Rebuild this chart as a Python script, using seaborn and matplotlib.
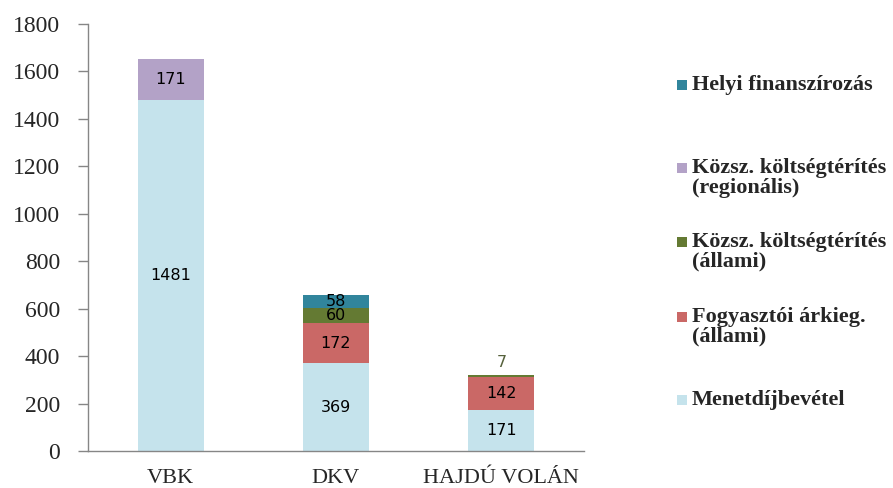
import numpy as np
import pandas as pd
import matplotlib
matplotlib.use("Agg")
import matplotlib.pyplot as plt
import seaborn as sns
from matplotlib.patches import Rectangle

# =============================
# Données
# =============================
categories = ["VBK", "DKV", "HAJDÚ VOLÁN"]

series_names = [
    "Menetdíjbevétel",
    "Fogyasztói árkieg. (állami)",
    "Közsz. költségtérítés (állami)",
    "Közsz. költségtérítés (regionális)",
    "Helyi finanszírozás",
]
menetdij = [1481, 369, 171]
fogyasztoi = [0, 172, 142]
kozsz_allami = [0, 60, 7]
kozsz_regionalis = [171, 0, 0]
helyi = [0, 58, 0]

legend_labels = [
    "Menetdíjbevétel",
    "Fogyasztói árkieg.\n(állami)",
    "Közsz. költségtérítés\n(állami)",
    "Közsz. költségtérítés\n(regionális)",
    "Helyi finanszírozás",
]
colors = ["#C5E3EC", "#CA6866", "#647A33", "#B3A2C7", "#31859C"]

y_ticks = [0, 200, 400, 600, 800, 1000, 1200, 1400, 1600, 1800]

# =============================
# Mise en forme des données (cumul pour empilement)
# =============================
values = [menetdij, fogyasztoi, kozsz_allami, kozsz_regionalis, helyi]
rows = []
for i, cat in enumerate(categories):
    cum = 0
    for name, vals in zip(series_names, values):
        cum += vals[i]
        rows.append({"category": cat, "series": name, "value": vals[i], "cum": cum})
df = pd.DataFrame(rows)

# =============================
# Graphique
# =============================
sns.set_style("white")
serif = ["Liberation Serif", "DejaVu Serif"]

fig = plt.figure(figsize=(8.93, 4.88), dpi=100)
ax = fig.add_axes([88 / 893, 1 - 451 / 488, (584 - 88) / 893, (451 - 24) / 488])

# on trace du haut vers le bas pour que les segments inférieurs recouvrent
for name, col in reversed(list(zip(series_names, colors))):
    sub = df[df["series"] == name]
    sns.barplot(data=sub, x="category", y="cum", order=categories, color=col,
                saturation=1, width=0.4, linewidth=0, ax=ax)

# étiquettes de valeurs
for i, cat in enumerate(categories):
    sub = df[df["category"] == cat]
    for _, r in sub.iterrows():
        if r["value"] == 0:
            continue
        if r["value"] < 30:
            ax.text(i, r["cum"] + 22, f"{r['value']:.0f}", ha="center", va="bottom",
                    fontsize=11.5, color="#56613C", family="DejaVu Sans")
        else:
            ax.text(i, r["cum"] - r["value"] / 2, f"{r['value']:.0f}", ha="center",
                    va="center", fontsize=11.5, color="black", family="DejaVu Sans")

# axes
ax.set_xlim(-0.5, 2.5)
ax.set_ylim(0, 1800)
ax.set_yticks(y_ticks)
ax.set_yticklabels([str(t) for t in y_ticks], family=serif, fontsize=17)
ax.set_xticks([0, 1, 2])
ax.set_xticklabels(categories, family=serif, fontsize=16)
ax.set_xticks([-0.5, 0.5, 1.5, 2.5], minor=True)
ax.tick_params(axis="x", which="major", length=0, pad=13)
ax.tick_params(axis="x", which="minor", length=7, width=1, color="#868686", direction="out")
ax.tick_params(axis="y", length=7, width=1, color="#868686", direction="out", pad=13, left=True)
ax.set_xlabel("")
ax.set_ylabel("")
for side in ["top", "right"]:
    ax.spines[side].set_visible(False)
for side in ["left", "bottom"]:
    ax.spines[side].set_color("#868686")
    ax.spines[side].set_linewidth(1)

# légende (placée à la main pour aligner le carré sur la première ligne)
legend_centers = [400, 327, 252, 178, 85]   # centre vertical de chaque bloc, en pixels
for label, col, yc in zip(legend_labels, colors, legend_centers):
    n_lines = label.count("\n") + 1
    y_first = yc - (n_lines - 1) * 10
    fig.patches.append(Rectangle((677 / 893, 1 - (y_first + 5) / 488), 10 / 893, 10 / 488,
                                 transform=fig.transFigure, facecolor=col,
                                 edgecolor="none"))
    fig.text(692 / 893, 1 - yc / 488, label, ha="left", va="center",
             family=serif, fontsize=16, fontweight="bold", linespacing=0.95)

fig.savefig("out.png", dpi=100)
